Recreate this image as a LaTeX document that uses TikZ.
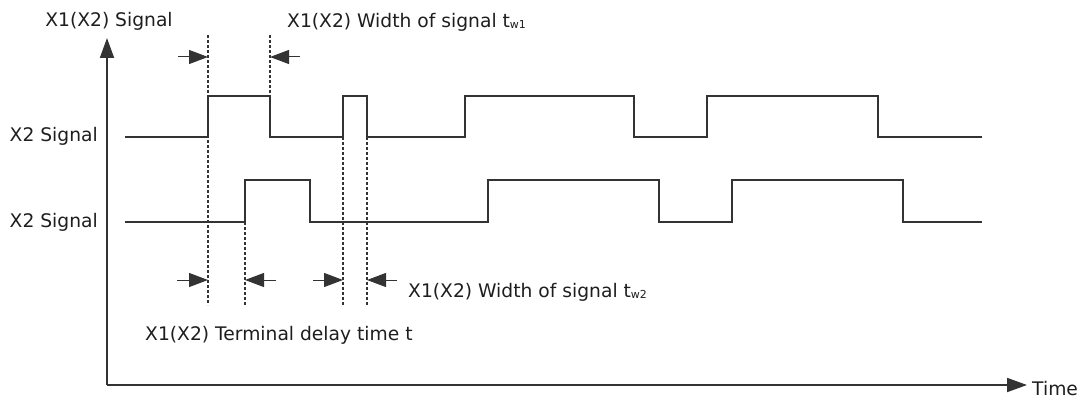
\documentclass[tikz,border=0pt]{standalone}
\usepackage{fontspec}
\setmainfont{DejaVu Sans}
\usetikzlibrary{arrows.meta,positioning}
\definecolor{ink}{HTML}{333333}
\definecolor{txt}{HTML}{1E1E1E}
\tikzset{
  sig/.style={draw=ink,line width=1.8pt},
  axis/.style={draw=ink,line width=1.8pt,-{Triangle[length=20pt,width=14pt]}},
  guide/.style={draw=ink,line width=1.1pt,dash pattern=on 3pt off 2pt},
  gauge/.style={draw=ink,line width=1pt,-{Triangle[length=19pt,width=14pt]}},
  lbl/.style={font=\fontsize{18.7}{22}\selectfont,text=txt,inner sep=0pt}
}
\newcommand{\subw}[1]{\raisebox{-1pt}{\fontsize{11}{12}\selectfont #1}}

\begin{document}
\begin{tikzpicture}[x=1pt,y=-1pt]
    \useasboundingbox (0,0) rectangle (1084,401);
    % axes
    \coordinate (o) at (107,385);
    \coordinate (ytip) at (107,38);
    \coordinate (xtip) at (1027,385);
    \draw[axis] (o) -- (ytip);
    \draw[axis] (o) -- (xtip);
    \node[lbl,anchor=base] (ylab) at (109,27) {X1(X2) Signal};
    \node[lbl,anchor=base west] (tlab) at (1032,395) {Time};
    % guide lines
    \foreach \x/\a/\b in {208/35/305,270/35/97,245/222/305,343/137/305,367/137/305}
      \draw[guide] (\x,\a) -- (\x,\b);
    % first signal
    \draw[sig] (125,137) -- (208,137) -- (208,96) -- (270,96) -- (270,137)
      -- (343,137) -- (343,96) -- (367,96) -- (367,137) -- (465,137) -- (465,96)
      -- (634,96) -- (634,137) -- (707,137) -- (707,96) -- (878,96) -- (878,137) -- (982,137);
    % second signal
    \draw[sig] (125,222) -- (245,222) -- (245,180) -- (310,180) -- (310,222)
      -- (488,222) -- (488,180) -- (659,180) -- (659,222) -- (732,222) -- (732,180)
      -- (903,180) -- (903,222) -- (982,222);
    \node[lbl,anchor=base east] (s1) at (98,142) {X2 Signal};
    \node[lbl,anchor=base east] (s2) at (98,227) {X2 Signal};
    % width / delay markers
    \foreach \s/\e/\y in {178/208/57,300/270/57,177/208/280,276/245/280,313/343/280,397/367/280}
      \draw[gauge] (\s,\y) -- (\e,\y);
    \node[lbl,anchor=base west] (w1) at (287,28) {X1(X2) Width of signal t\subw{w1}};
    \node[lbl,anchor=base west] (w2) at (408,297) {X1(X2) Width of signal t\subw{w2}};
    \node[lbl,anchor=base west] (dly) at (145,340) {X1(X2) Terminal delay time t};
\end{tikzpicture}
\end{document}
